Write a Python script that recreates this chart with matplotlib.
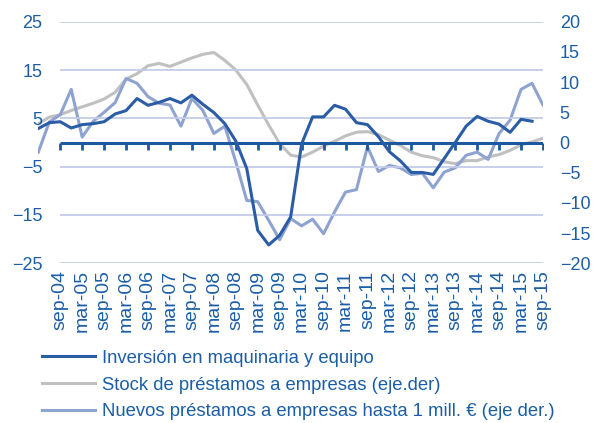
import matplotlib.pyplot as plt
import numpy as np

plt.rcParams['font.family'] = ['Liberation Sans', 'DejaVu Sans']

# trimestral, de mar-04 a sep-15
inversion = [2.9, 4.1, 4.3, 3.0, 3.7, 3.9, 4.3, 5.9, 6.6, 9.1, 7.7, 8.3,
             9.1, 8.2, 9.8, 7.9, 6.2, 3.9, 0.3, -5.4, -18.2, -21.2, -19.2, -15.4,
             -0.3, 5.3, 5.3, 7.7, 6.9, 4.1, 3.7, 1.2, -1.9, -3.8, -6.2, -6.2,
             -6.6, -3.3, 0.0, 3.4, 5.4, 4.4, 3.8, 2.1, 4.8, 4.4]
stock = [3.1, 4.2, 4.6, 5.3, 5.9, 6.5, 7.2, 8.3, 10.5, 11.4, 12.7, 13.1,
         12.6, 13.3, 14.0, 14.6, 14.9, 13.6, 12.0, 9.6, 6.2, 2.9, -0.2, -2.1,
         -2.4, -1.6, -0.6, 0.2, 1.1, 1.7, 1.8, 1.3, 0.4, -0.5, -1.6, -2.2,
         -2.5, -3.2, -3.5, -3.0, -3.0, -2.4, -2.0, -1.3, -0.4, 0.1, 0.7]
nuevos = [-1.6, 3.4, 4.6, 8.8, 0.9, 3.5, 5.0, 6.6, 10.6, 9.8, 7.6, 6.5,
          6.2, 2.7, 7.3, 5.3, 1.5, 2.7, -3.2, -9.6, -9.8, -12.9, -16.1, -12.6,
          -13.8, -12.7, -15.1, -11.5, -8.2, -7.8, -0.7, -4.8, -3.8, -4.2, -5.3, -5.1,
          -7.5, -4.9, -4.2, -2.1, -1.6, -2.8, 1.5, 3.7, 8.8, 9.8, 6.2]

tick_labels = ['sep-04', 'mar-05', 'sep-05', 'mar-06', 'sep-06', 'mar-07', 'sep-07',
               'mar-08', 'sep-08', 'mar-09', 'sep-09', 'mar-10', 'sep-10', 'mar-11',
               'sep-11', 'mar-12', 'sep-12', 'mar-13', 'sep-13', 'mar-14', 'sep-14',
               'mar-15', 'sep-15']
left_ticks = [-25, -15, -5, 5, 15, 25]
right_ticks = [-20, -15, -10, -5, 0, 5, 10, 15, 20]

labels = ['Inversión en maquinaria y equipo',
          'Stock de préstamos a empresas (eje.der)',
          'Nuevos préstamos a empresas hasta 1 mill. € (eje der.)']

c_text = '#1b5ea6'
c_dark = '#2b5ca6'
c_gray = '#c0c0c0'
c_light = '#8fa3d1'
c_grid = '#c3cbe8'
c_zero = '#1c58a0'

W, H = 598, 423
fig = plt.figure(figsize=(W / 100, H / 100), dpi=100)
x0, x1, ytop, ybot = 38.3, 543, 21.7, 263.3
ax = fig.add_axes([x0 / W, 1 - ybot / H, (x1 - x0) / W, (ybot - ytop) / H])
ax2 = ax.twinx()

n = len(stock)
q = np.arange(n)
xt = np.arange(2, n, 2)  # posiciones de sep-04 ... sep-15

ax.set_xlim(0, n - 1)
ax.set_ylim(-25, 25)
ax2.set_ylim(-20, 20)

ax.hlines(left_ticks, xt[0], xt[-1], color=c_grid, lw=1.3, zorder=1)
ax.hlines(0, xt[0], xt[-1], color=c_zero, lw=2.2, zorder=2)
ax.plot(xt, np.zeros(len(xt)), ls='', marker=3, ms=5, mew=2, color=c_zero, zorder=2)

ax2.plot(q, stock, color=c_gray, lw=2.2, zorder=3)
ax2.plot(q, nuevos, color=c_light, lw=2.2, zorder=3)
ax.plot(q[:len(inversion)], inversion, color=c_dark, lw=2.2, zorder=4)
ax.set_zorder(ax2.get_zorder() + 1)
ax.patch.set_visible(False)

for a in (ax, ax2):
    for s in a.spines.values():
        s.set_visible(False)

ax.set_yticks(left_ticks)
ax.tick_params(axis='y', length=0, pad=-3, labelsize=13, labelcolor=c_text)
ax2.set_yticks(right_ticks)
ax2.tick_params(axis='y', length=0, pad=12, labelsize=13, labelcolor=c_text)

ax.set_xticks(xt)
ax.set_xticklabels(tick_labels, rotation=90)
ax.tick_params(axis='x', length=0, pad=5, labelsize=14, labelcolor=c_text)

handles = [plt.Line2D([], [], color=c, lw=2.2) for c in (c_dark, c_gray, c_light)]
fig.legend(handles, labels, loc='upper left', bbox_to_anchor=(27 / W, 1 - 335 / H),
           frameon=False, fontsize=13.3, labelcolor=c_text, handlelength=2.86,
           handletextpad=0.38, labelspacing=0.53, borderpad=0.3)

fig.savefig('out.png', dpi=100)
